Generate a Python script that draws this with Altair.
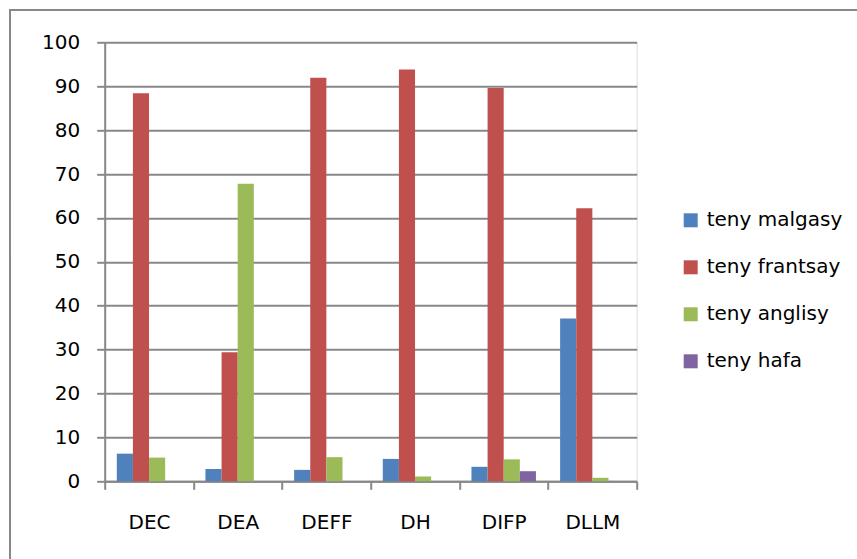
import altair as alt
import pandas as pd

categories = ["DEC", "DEA", "DEFF", "DH", "DIFP", "DLLM"]
series = ["teny malgasy", "teny frantsay", "teny anglisy", "teny hafa"]
malgasy = [6.3, 2.8, 2.6, 5.1, 3.3, 37.1]
frantsay = [88.4, 29.4, 91.9, 93.8, 89.6, 62.2]
anglisy = [5.4, 67.8, 5.5, 1.1, 5.0, 0.8]
hafa = [0, 0, 0, 0, 2.3, 0]
colors = ["#4F81BD", "#C0504D", "#9BBB59", "#8064A2"]

rows = []
for s, vals in zip(series, [malgasy, frantsay, anglisy, hafa]):
    for c, v in zip(categories, vals):
        rows.append({"cat": c, "series": s, "value": v})
df = pd.DataFrame(rows)

FONT = "DejaVu Sans"
GRAY = "#888888"
FS = 20

bars = alt.Chart(df).mark_bar().encode(
    x=alt.X("cat:N", sort=categories, title=None,
            scale=alt.Scale(paddingInner=0, paddingOuter=0),
            axis=alt.Axis(labelAngle=0, tickBand="extent", tickSize=8,
                          tickColor=GRAY, tickWidth=2, domainColor=GRAY,
                          domainWidth=2, labelFontSize=FS, labelFont=FONT,
                          labelColor="#000000", labelPadding=23,
                          labelBaseline="top")),
    xOffset=alt.XOffset("series:N", sort=series,
                        scale=alt.Scale(paddingOuter=0.75, paddingInner=0)),
    y=alt.Y("value:Q", title=None,
            scale=alt.Scale(domain=[0, 100], nice=False),
            axis=alt.Axis(values=list(range(0, 101, 10)), grid=True,
                          gridColor=GRAY, gridWidth=2, tickSize=8,
                          tickColor=GRAY, tickWidth=2, domainColor=GRAY,
                          domainWidth=2, labelFontSize=FS, labelFont=FONT,
                          labelColor="#000000", labelPadding=17)),
    color=alt.Color("series:N", sort=series,
                    scale=alt.Scale(domain=series, range=colors),
                    legend=alt.Legend(title=None, orient="none", legendX=576,
                                      legendY=168, symbolType="square",
                                      symbolSize=196, symbolStrokeWidth=0,
                                      symbolOpacity=1,
                                      labelFontSize=FS, labelFont=FONT,
                                      labelColor="#000000", labelOffset=6,
                                      rowPadding=27, padding=0)),
)

border = alt.Chart(pd.DataFrame({"a": [0]})).mark_rect(
    fill=None, stroke=GRAY, strokeWidth=2
).encode(
    x=alt.value(-94.7), y=alt.value(-32.3),
    x2=alt.value(900), y2=alt.value(700)
)

chart = alt.layer(border, bars).properties(
    width=532, height=439,
    autosize=alt.AutoSizeParams(type="none"),
    padding={"left": 104.7, "top": 42.3, "right": 220.3, "bottom": 77.7},
).configure_view(stroke=None).configure(background="white")

chart.save("out.html", embed_options={"renderer": "svg", "actions": False})
